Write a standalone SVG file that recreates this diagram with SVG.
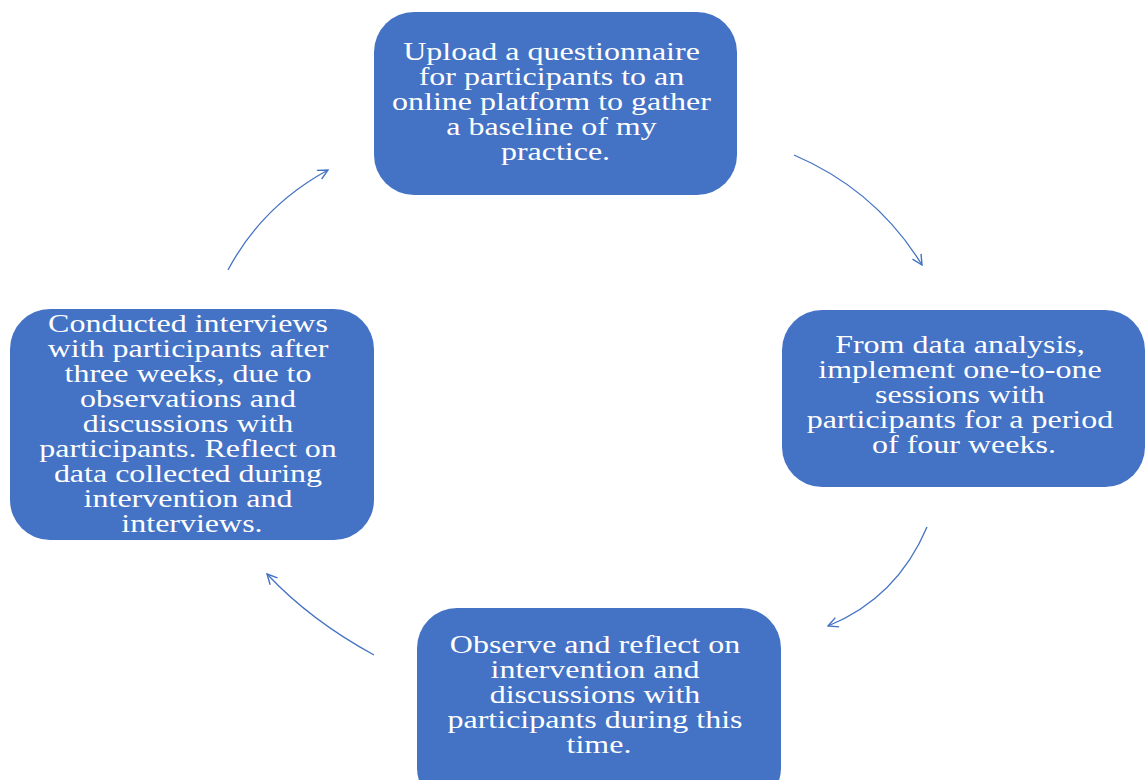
<svg xmlns="http://www.w3.org/2000/svg" width="1145" height="780" viewBox="0 0 1145 780">
  <style>
    .box { fill: #4472C4; }
    .label { fill: #FFFFFF; font-family: "Liberation Serif", "Times New Roman", serif; font-size: 25px; text-anchor: middle; }
    .arrow { fill: none; stroke: #4472C4; stroke-width: 1.3; marker-end: url(#head); }
  </style>
  <defs>
    <marker id="head" viewBox="0 0 12 12" refX="11" refY="6" markerWidth="12" markerHeight="12" markerUnits="userSpaceOnUse" orient="auto">
      <path d="M1,1 L11,6 L1,11" fill="none" stroke="#4472C4" stroke-width="1.4"/>
    </marker>
  </defs>
  <rect width="1145" height="780" fill="#FFFFFF"/>

  <g id="connectors">
    <path class="arrow" d="M794,155 Q876,190 922,265"/>
    <path class="arrow" d="M927,527 Q897,598 828,626"/>
    <path class="arrow" d="M374,655 Q310,620 267,574"/>
    <path class="arrow" d="M228,270 Q262,206 328,170"/>
  </g>

  <g id="upload">
    <rect class="box" x="374" y="12" width="363" height="183" rx="40" ry="40"/>
    <g transform="translate(555.5,0) scale(1.28,1)">
      <text class="label">
        <tspan x="0" y="60">Upload a questionnaire</tspan>
        <tspan x="0" y="85">for participants to an</tspan>
        <tspan x="0" y="110">online platform to gather</tspan>
        <tspan x="0" y="135">a baseline of my</tspan>
        <tspan x="0" y="160">practice.</tspan>
      </text>
    </g>
  </g>

  <g id="implement">
    <rect class="box" x="782" y="310" width="363" height="177" rx="40" ry="40"/>
    <g transform="translate(964,0) scale(1.28,1)">
      <text class="label">
        <tspan x="0" y="353">From data analysis,</tspan>
        <tspan x="0" y="378">implement one-to-one</tspan>
        <tspan x="0" y="403">sessions with</tspan>
        <tspan x="0" y="428">participants for a period</tspan>
        <tspan x="0" y="453">of four weeks.</tspan>
      </text>
    </g>
  </g>

  <g id="observe">
    <rect class="box" x="417" y="608" width="364" height="200" rx="40" ry="40"/>
    <g transform="translate(599,0) scale(1.28,1)">
      <text class="label">
        <tspan x="0" y="653">Observe and reflect on</tspan>
        <tspan x="0" y="678">intervention and</tspan>
        <tspan x="0" y="703">discussions with</tspan>
        <tspan x="0" y="728">participants during this</tspan>
        <tspan x="0" y="753">time.</tspan>
      </text>
    </g>
  </g>

  <g id="interviews">
    <rect class="box" x="10" y="309" width="364" height="231" rx="40" ry="40"/>
    <g transform="translate(192,0) scale(1.28,1)">
      <text class="label">
        <tspan x="0" y="332">Conducted interviews</tspan>
        <tspan x="0" y="357">with participants after</tspan>
        <tspan x="0" y="382">three weeks, due to</tspan>
        <tspan x="0" y="407">observations and</tspan>
        <tspan x="0" y="432">discussions with</tspan>
        <tspan x="0" y="457">participants. Reflect on</tspan>
        <tspan x="0" y="482">data collected during</tspan>
        <tspan x="0" y="507">intervention and</tspan>
        <tspan x="0" y="532">interviews.</tspan>
      </text>
    </g>
  </g>
</svg>
